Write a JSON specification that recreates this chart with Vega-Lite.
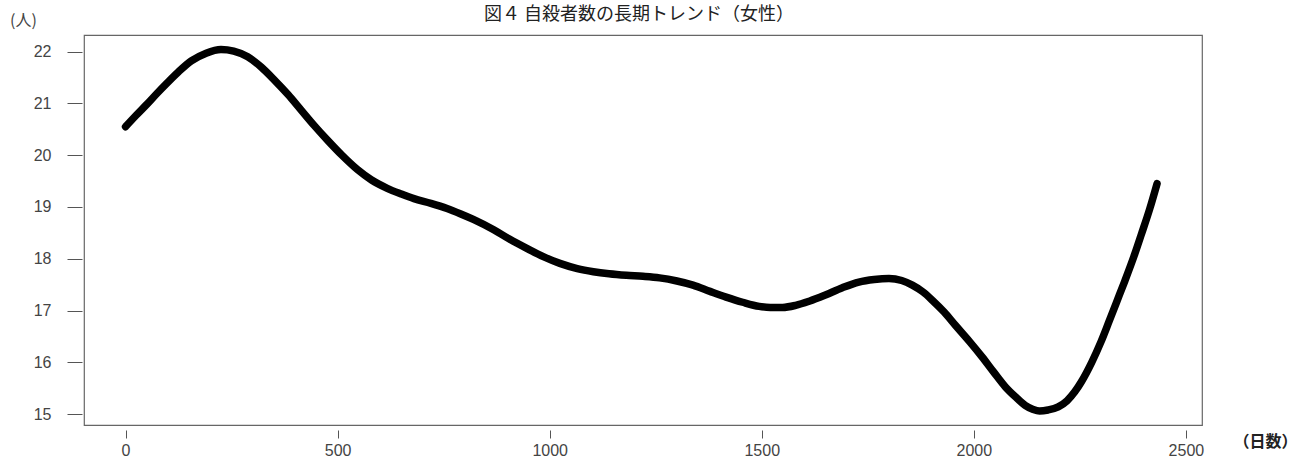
{
  "$schema": "https://vega.github.io/schema/vega-lite/v6.json",
  "width": 1118,
  "height": 390,
  "autosize": {"type": "none"},
  "padding": {"left": 84, "top": 35, "right": 109, "bottom": 36},
  "background": "white",
  "title": {
    "text": "図４ 自殺者数の長期トレンド（女性）",
    "font": "Noto Sans CJK JP",
    "fontSize": 18,
    "fontWeight": "normal",
    "color": "#222",
    "offset": -12,
    "dx": -4,
    "anchor": "middle",
    "frame": "group"
  },
  "config": {
    "view": {"stroke": "#666", "strokeWidth": 1.2},
    "axis": {
      "labelFont": "Liberation Sans",
      "labelFontSize": 16,
      "labelColor": "#444",
      "tickColor": "#555",
      "grid": false,
      "domain": false
    }
  },
  "data": {
    "values": [
      {"day": 0, "v": 20.55}, {"day": 25, "v": 20.77}, {"day": 50, "v": 20.98}, {"day": 75, "v": 21.2},
      {"day": 100, "v": 21.41}, {"day": 125, "v": 21.61}, {"day": 155, "v": 21.82}, {"day": 190, "v": 21.97},
      {"day": 225, "v": 22.04}, {"day": 255, "v": 22.01}, {"day": 288, "v": 21.9}, {"day": 320, "v": 21.7},
      {"day": 351, "v": 21.45}, {"day": 383, "v": 21.17}, {"day": 414, "v": 20.87}, {"day": 445, "v": 20.57},
      {"day": 476, "v": 20.29}, {"day": 510, "v": 20.0}, {"day": 547, "v": 19.72}, {"day": 580, "v": 19.52},
      {"day": 617, "v": 19.36}, {"day": 650, "v": 19.25}, {"day": 680, "v": 19.16}, {"day": 720, "v": 19.07},
      {"day": 758, "v": 18.97}, {"day": 789, "v": 18.87}, {"day": 820, "v": 18.76}, {"day": 868, "v": 18.56},
      {"day": 905, "v": 18.38}, {"day": 946, "v": 18.2}, {"day": 985, "v": 18.04}, {"day": 1024, "v": 17.91},
      {"day": 1065, "v": 17.81}, {"day": 1103, "v": 17.75}, {"day": 1140, "v": 17.71}, {"day": 1181, "v": 17.68},
      {"day": 1220, "v": 17.66}, {"day": 1259, "v": 17.63}, {"day": 1300, "v": 17.57}, {"day": 1338, "v": 17.49},
      {"day": 1378, "v": 17.37}, {"day": 1416, "v": 17.26}, {"day": 1455, "v": 17.16}, {"day": 1494, "v": 17.08},
      {"day": 1520, "v": 17.06}, {"day": 1549, "v": 17.06}, {"day": 1580, "v": 17.1}, {"day": 1612, "v": 17.18},
      {"day": 1650, "v": 17.3}, {"day": 1690, "v": 17.44}, {"day": 1729, "v": 17.55}, {"day": 1765, "v": 17.6},
      {"day": 1800, "v": 17.62}, {"day": 1830, "v": 17.58}, {"day": 1855, "v": 17.49}, {"day": 1880, "v": 17.36},
      {"day": 1902, "v": 17.2}, {"day": 1930, "v": 16.97}, {"day": 1956, "v": 16.72}, {"day": 1990, "v": 16.4},
      {"day": 2019, "v": 16.11}, {"day": 2047, "v": 15.81}, {"day": 2074, "v": 15.53}, {"day": 2100, "v": 15.32},
      {"day": 2121, "v": 15.17}, {"day": 2140, "v": 15.09}, {"day": 2155, "v": 15.06}, {"day": 2175, "v": 15.08},
      {"day": 2199, "v": 15.14}, {"day": 2220, "v": 15.26}, {"day": 2238, "v": 15.43}, {"day": 2254, "v": 15.63},
      {"day": 2278, "v": 16.0}, {"day": 2300, "v": 16.4}, {"day": 2317, "v": 16.75}, {"day": 2336, "v": 17.15},
      {"day": 2356, "v": 17.57}, {"day": 2379, "v": 18.08}, {"day": 2395, "v": 18.47}, {"day": 2415, "v": 18.97},
      {"day": 2432, "v": 19.45}
    ]
  },
  "mark": {"type": "line", "color": "black", "strokeWidth": 7.5, "strokeCap": "round", "strokeJoin": "round", "interpolate": "monotone"},
  "encoding": {
    "x": {
      "field": "day",
      "type": "quantitative",
      "scale": {"domain": [-98, 2538], "nice": false, "zero": false},
      "axis": {
        "values": [0, 500, 1000, 1500, 2000, 2500],
        "format": "d",
        "offset": 5,
        "tickSize": 8,
        "labelPadding": 4,
        "title": "（日数）",
        "titleFont": "Noto Sans CJK JP",
        "titleFontSize": 16,
        "titleFontWeight": "bold",
        "titleColor": "#222",
        "titleX": 1181,
        "titleY": 11,
        "titleAlign": "center",
        "titleBaseline": "middle",
        "titleAngle": 0
      }
    },
    "y": {
      "field": "v",
      "type": "quantitative",
      "scale": {"domain": [14.79, 22.32], "nice": false, "zero": false},
      "axis": {
        "values": [15, 16, 17, 18, 19, 20, 21, 22],
        "format": "d",
        "offset": 2,
        "tickSize": 15,
        "labelPadding": 16,
        "title": "(人)",
        "titleFont": "Noto Sans CJK JP",
        "titleFontSize": 16,
        "titleFontWeight": "normal",
        "titleColor": "#444",
        "titleAngle": 0,
        "titleX": -59,
        "titleY": -15,
        "titleAlign": "center",
        "titleBaseline": "middle"
      }
    }
  }
}
